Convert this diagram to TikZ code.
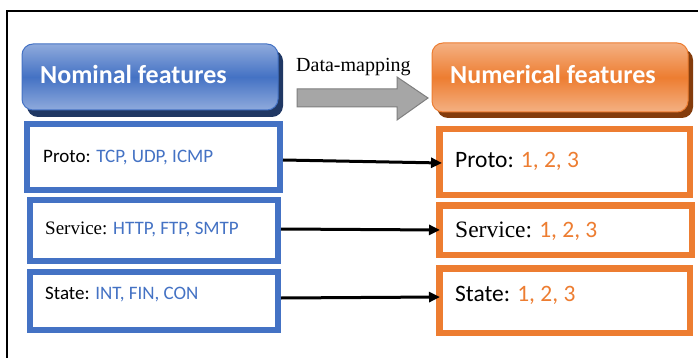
\documentclass[tikz,border=0pt]{standalone}
\usepackage{fontspec}
\setmainfont{Carlito}
\newfontfamily\serifface{Liberation Serif}
\usetikzlibrary{arrows.meta}

\definecolor{nomblue}{HTML}{4472C4}
\definecolor{nomlight}{HTML}{8FAADC}
\definecolor{nomdark}{HTML}{203864}
\definecolor{numorange}{HTML}{ED7D31}
\definecolor{numlight}{HTML}{F4B183}
\definecolor{numdark}{HTML}{843C0C}
\definecolor{mapgray}{HTML}{A6A6A6}
\definecolor{mapedge}{HTML}{7F7F7F}

\tikzset{
  px/.style={x=1pt,y=-1pt},
  bluebox/.style={draw=nomblue,line width=6pt,outer sep=0pt,inner sep=0pt,anchor=north west},
  orangebox/.style={draw=numorange,line width=6.5pt,outer sep=0pt,inner sep=0pt,anchor=north west},
  headtext/.style={anchor=west,inner sep=0pt,text=white,font=\fontsize{26}{30}\selectfont\bfseries},
  leftlabel/.style={anchor=west,inner sep=0pt,font=\fontsize{19}{22}\selectfont},
  rightlabel/.style={anchor=west,inner sep=0pt,font=\fontsize{23.5}{27}\selectfont},
  maplink/.style={line width=3pt,-{Triangle[length=11pt,width=10pt]}},
}

\begin{document}
\begin{tikzpicture}[px]
\useasboundingbox (0,0) rectangle (698,358);
\fill[white] (0,0) rectangle (698,358);

% frame, open on the right and at the bottom
\draw[line width=2pt] (7,358) -- (7,11) -- (698,11);

% header boxes with drop shadows
\fill[nomdark,rounded corners=11pt] (27,50) rectangle (283,117);
\shade[top color=nomlight,bottom color=nomlight,middle color=nomblue,rounded corners=11pt,draw=nomblue,line width=1pt]
  (22,44) rectangle (278,110);
\node[headtext] (nomhead) at (40,74) {Nominal features};

\fill[numdark,rounded corners=11pt] (437,49) rectangle (693,118);
\shade[top color=numlight,bottom color=numlight,middle color=numorange,rounded corners=11pt,draw=numorange,line width=1pt]
  (432,43) rectangle (688,112);
\node[headtext] (numhead) at (450,74) {Numerical features};

% data-mapping arrow
\node[anchor=base west,inner sep=0pt,font=\serifface\fontsize{20}{24}\selectfont] (maplabel) at (296,72) {Data-mapping};
\draw[fill=mapgray,draw=mapedge,line width=1pt]
  (297,89) -- (397,89) -- (397,77) -- (428,98) -- (397,120) -- (397,107) -- (297,107) -- cycle;

% nominal feature boxes
\node[bluebox,minimum width=253pt,minimum height=66pt] (pn) at (27,124) {};
\node[bluebox,minimum width=248pt,minimum height=61pt] (sn) at (30,200) {};
\node[bluebox,minimum width=248pt,minimum height=58pt] (tn) at (30,272) {};

\node[leftlabel] (pnt) at (43,158) {Proto: \textcolor{nomblue}{TCP, UDP, ICMP}};
\node[leftlabel] (snt) at (45,229) {{\serifface Service:} \textcolor{nomblue}{HTTP, FTP, SMTP}};
\node[leftlabel] (tnt) at (45,295) {State: \textcolor{nomblue}{INT, FIN, CON}};

% numerical feature boxes
\node[orangebox,minimum width=250.5pt,minimum height=65.5pt] (pr) at (439.25,129.25) {};
\node[orangebox,minimum width=252.5pt,minimum height=49.5pt] (sr) at (439.25,205.25) {};
\node[orangebox,minimum width=250.5pt,minimum height=64.5pt] (tr) at (439.25,268.25) {};

\node[rightlabel] (prt) at (455,161) {Proto: \textcolor{numorange}{1, 2, 3}};
\node[rightlabel] (srt) at (455,231) {{\serifface Service:} \textcolor{numorange}{1, 2, 3}};
\node[rightlabel] (trt) at (455,295) {State: \textcolor{numorange}{1, 2, 3}};

% mapping connectors
\coordinate (pa) at (283,160);
\coordinate (pb) at (442,163);
\coordinate (sa) at (281,229);
\coordinate (sb) at (440,230);
\coordinate (ta) at (281,298);
\coordinate (tb) at (440,297);
\draw[maplink] (pa) -- (pb);
\draw[maplink] (sa) -- (sb);
\draw[maplink] (ta) -- (tb);
\end{tikzpicture}
\end{document}
